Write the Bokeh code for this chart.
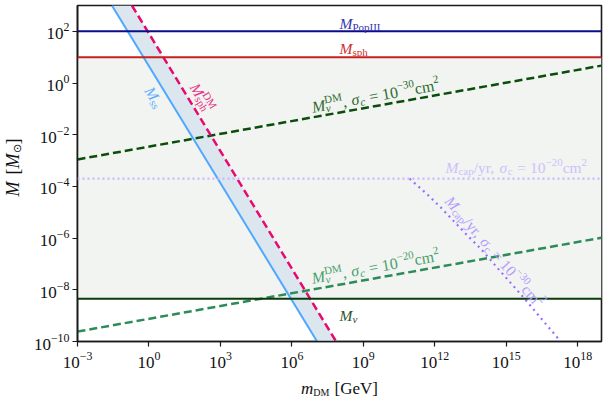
import math
import numpy as np
from bokeh.plotting import figure
from bokeh.layouts import row, column
from bokeh.models import Label, Span, BoxAnnotation, FixedTicker
from bokeh.embed import file_html
from bokeh.resources import INLINE

# ---------------- data ----------------
x_lim = [1e-3, 1e19]
y_lim = [1e-10, 1e3]
x_ticks = [1e-3, 1e0, 1e3, 1e6, 1e9, 1e12, 1e15, 1e18]
y_ticks = [1e-10, 1e-8, 1e-6, 1e-4, 1e-2, 1e0, 1e2]

M_popIII = 100.0
M_sph = 10.0
M_nu = 4.5e-9
M_cap_20 = 2.0e-4

m_ss = [10 ** -1.555, 10 ** 7.06]
M_ss = [1e3, 1e-10]
m_sph_dm = [10 ** -0.714, 10 ** 7.857]
M_sph_dm = [1e3, 1e-10]
m_nu_dm = [1e-3, 1e19]
M_nu_dm_30 = [10 ** -2.956, 10 ** 0.674]
M_nu_dm_20 = [10 ** -9.617, 10 ** -5.986]
m_cap_30 = [10 ** v for v in [10.94, 11.75, 12.31, 13.36, 13.92, 14.76, 15.74, 16.44, 17.14, 17.20]]
M_cap_30 = [10 ** v for v in [-3.70, -4.36, -4.87, -5.89, -6.40, -7.29, -8.31, -9.08, -9.84, -10.0]]

# ---------------- geometry ----------------
PAGE_W, PAGE_H = 606, 400
LEFT_W = 26          # strip holding the y-axis title
BOT_H = 30           # strip holding the x-axis title
W, H = PAGE_W - LEFT_W, PAGE_H - BOT_H
FRAME_L, FRAME_R, FRAME_T, FRAME_B = 77, 601, 5, 344   # frame edges on the page
BL, BR, BT = FRAME_L - LEFT_W, PAGE_W - FRAME_R, FRAME_T
BB = H - FRAME_B
FW, FH = W - BL - BR, H - BT - BB

p = figure(width=W, height=H, x_axis_type="log", y_axis_type="log",
           x_range=(x_lim[0], x_lim[1]), y_range=(y_lim[0], y_lim[1]),
           output_backend="svg", toolbar_location=None, align="start",
           min_border_left=BL, min_border_right=BR, min_border_top=BT, min_border_bottom=BB)
p.background_fill_color = "white"
p.border_fill_color = "white"
p.grid.visible = False
p.outline_line_color = "#1a1a1a"
p.outline_line_width = 1.6

ppx = FW / (math.log10(x_lim[1]) - math.log10(x_lim[0]))
ppy = FH / (math.log10(y_lim[1]) - math.log10(y_lim[0]))

for ax, ticks in ((p.xaxis[0], x_ticks), (p.yaxis[0], y_ticks)):
    ax.ticker = FixedTicker(ticks=ticks)
    ax.major_label_text_font = "Liberation Serif"
    ax.major_label_text_font_size = "17px"
    ax.major_label_text_color = "#111111"
    ax.major_tick_out = 5
    ax.major_tick_in = 0
    ax.major_tick_line_color = "#1a1a1a"
    ax.major_tick_line_width = 1.2
    ax.minor_tick_line_color = None
    ax.axis_line_color = "#1a1a1a"
    ax.axis_line_width = 1.6
p.xaxis.major_label_standoff = 5
p.yaxis.major_label_standoff = 3

# shaded region between M_nu and M_sph
p.add_layout(BoxAnnotation(bottom=M_nu, top=M_sph, fill_color="#f1f4f0", fill_alpha=1.0,
                           line_color=None, level="underlay"))

# band between M_ss and M_sph^DM
p.patch(x=[m_ss[0], m_sph_dm[0], m_sph_dm[1], m_ss[1]],
        y=[M_ss[0], M_sph_dm[0], M_sph_dm[1], M_ss[1]],
        fill_color="#dbe6ee", line_color=None)

p.line(m_nu_dm, M_nu_dm_20, line_color="#2e8b57", line_width=2.5, line_dash="8 4")
p.line(m_nu_dm, M_nu_dm_30, line_color="#0b4d0b", line_width=2.5, line_dash="8 4")
p.line(m_cap_30, M_cap_30, line_color="#9a6cff", line_width=2.2, line_dash="2 4")
p.line(m_ss, M_ss, line_color="#4fa8ff", line_width=2)
p.line(m_sph_dm, M_sph_dm, line_color="#e8096f", line_width=2.5, line_dash="8 4")

p.add_layout(Span(location=M_cap_20, dimension="width", line_color="#cdb6ff",
                  line_width=2.2, line_dash="2 3"))
p.add_layout(Span(location=M_popIII, dimension="width", line_color="#0b0b8c", line_width=2))
p.add_layout(Span(location=M_sph, dimension="width", line_color="#c81f1f", line_width=2))
p.add_layout(Span(location=M_nu, dimension="width", line_color="#0b3b0b", line_width=2))

# ---------------- rich text labels ----------------
W_UP = {"0": .5, "1": .5, "2": .5, "3": .5, "4": .5, "5": .5, "6": .5, "7": .5, "8": .5, "9": .5,
        " ": .25, ",": .25, "/": .278, "=": .564, "[": .333, "]": .333, "\u2212": .564,
        "D": .722, "M": .889, "P": .556, "I": .333, "G": .722, "V": .722,
        "o": .5, "p": .5, "s": .389, "h": .5, "a": .444, "y": .5, "r": .333, "c": .444,
        "m": .778, "e": .444, "\u2299": .8}
W_IT = {"M": .833, "m": .722, "c": .444, "\u03bd": .46, "\u03c3": .54, " ": .25, ",": .25}


def tw(s, size, italic):
    tbl = W_IT if italic else W_UP
    return sum(tbl.get(ch, W_UP.get(ch, .5)) for ch in s) * size


def rich_label(fig, x, y, pieces, color, angle=0.0, perp=0.0, align="left", base=15.5, small=11,
               sub=-3.5, sup=5.5, space=0.3):
    """Place a run of text pieces (normal / subscript / superscript) along a rotated baseline.
    Leading and trailing blanks only advance the pen (SVG would collapse them)."""
    c, s = math.cos(angle), math.sin(angle)
    items = []
    adv = 0.0
    prev_start = 0.0
    for pc in pieces:
        txt, kind, it = pc[0], pc[1], pc[2]
        stack = len(pc) > 3 and pc[3]
        size = base if kind == "n" else small
        h = {"n": 0.0, "sub": sub, "sup": sup}[kind]
        core = txt.strip(" ")
        lead = (len(txt) - len(txt.lstrip(" "))) * space * size
        trail = (len(txt) - len(txt.rstrip(" "))) * space * size
        start = prev_start if stack else adv
        w = tw(core, size, it)
        items.append((core, size, it, start + lead, h))
        end = start + lead + w + trail
        adv = max(adv, end) if stack else end
        prev_start = start
    shift = {"left": 0.0, "center": -adv / 2, "right": -adv}[align]
    for txt, size, it, start, h in items:
        a = start + shift
        hh = h + perp
        fig.add_layout(Label(x=x, y=y, x_offset=a * c - hh * s, y_offset=a * s + hh * c,
                             text=txt, angle=angle, text_font="Liberation Serif",
                             text_font_size=f"{size}px",
                             text_font_style="italic" if it else "normal",
                             text_color=color, text_align="left", text_baseline="alphabetic"))


def seg_angle(xs, ys, i=0):
    lx = np.log10(xs)
    ly = np.log10(ys)
    return math.atan2((ly[i + 1] - ly[i]) * ppy, (lx[i + 1] - lx[i]) * ppx)


def y_on(xs, ys, xq):
    return 10 ** np.interp(math.log10(xq), np.log10(xs), np.log10(ys))


def x_on(xs, ys, yq):
    lx = np.log10(xs)[::-1]
    ly = np.log10(ys)[::-1]
    return 10 ** np.interp(math.log10(yq), ly, lx)


rich_label(p, 1e8, M_popIII, [("M", "n", True), ("PopIII", "sub", False)], "#3535b0", perp=8)
rich_label(p, 1e8, M_sph, [("M", "n", True), ("sph", "sub", False)], "#cc3030", perp=8.4)
rich_label(p, 1e8, M_nu, [("M", "n", True), ("\u03bd", "sub", True)], "#2a552a", perp=-17)

eq_pieces = lambda e: [("M", "n", True), ("\u03bd", "sub", True), ("DM", "sup", False, True),
                       (", ", "n", False), ("\u03c3", "n", True), ("c", "sub", True),
                       (" = 10", "n", False), ("\u2212" + e, "sup", False), ("cm", "n", False),
                       ("2", "sup", False)]
xg = 10 ** 6.92
rich_label(p, xg, y_on(m_nu_dm, M_nu_dm_30, xg), eq_pieces("30"), "#2f6a2f",
           angle=seg_angle(m_nu_dm, M_nu_dm_30), perp=10, base=16)
rich_label(p, xg, y_on(m_nu_dm, M_nu_dm_20, xg), eq_pieces("20"), "#4a9e6e",
           angle=seg_angle(m_nu_dm, M_nu_dm_20), perp=11, base=16)

cap_pieces = lambda e: [("M", "n", True), ("cap", "sub", False), ("/yr, ", "n", False),
                        ("\u03c3", "n", True), ("c", "sub", False), (" = 10", "n", False),
                        ("\u2212" + e, "sup", False), ("cm", "n", False), ("2", "sup", False)]
rich_label(p, 10 ** 12.45, M_cap_20, cap_pieces("20"), "#d0bfff", perp=11)
xc = 10 ** 14.24
rich_label(p, xc, y_on(m_cap_30, M_cap_30, xc), cap_pieces("30"), "#b49cff",
           angle=math.radians(-49), perp=8.5, align="center")

yss = 10 ** -0.31
rich_label(p, x_on(m_ss, M_ss, yss), yss, [("M", "n", True), ("ss", "sub", False)], "#5aaeff",
           angle=seg_angle(m_ss, M_ss), perp=-11.5, align="center")
ysd = 10 ** -0.8
rich_label(p, x_on(m_sph_dm, M_sph_dm, ysd), ysd,
           [("M", "n", True), ("sph", "sub", False), ("DM", "sup", False, True)], "#e8358a",
           angle=seg_angle(m_sph_dm, M_sph_dm), perp=12, align="center")


# ---------------- axis-title strips ----------------
def strip(w, h):
    f = figure(width=w, height=h, x_range=(0, w), y_range=(0, h), output_backend="svg",
               toolbar_location=None, x_axis_location=None, y_axis_location=None,
               align="start", min_border=0, min_border_left=0, min_border_right=0,
               min_border_top=0, min_border_bottom=0)
    f.outline_line_color = None
    f.grid.visible = False
    f.background_fill_color = "white"
    f.border_fill_color = "white"
    return f


# bottom strip spans the full page width, so its x coordinate is the page x
bottom = strip(PAGE_W, BOT_H)
rich_label(bottom, (FRAME_L + FRAME_R) / 2, BOT_H - 18,
           [("m", "n", True), ("DM", "sub", False), (" [GeV]", "n", False)],
           "#111111", align="center", base=17, small=10, sub=-3.5)

left = strip(LEFT_W, H)
rich_label(left, 12.5, H - (FRAME_T + FRAME_B) / 2 - 4,
           [("M", "n", True), (" [", "n", False), ("M", "n", True), ("\u2299", "sub", False),
            ("]", "n", False)],
           "#111111", angle=math.pi / 2, align="center", base=18, small=11, space=0.4)

layout = column(row(left, p, spacing=0, align="start"), bottom, spacing=0, align="start")
open("out.html", "w").write(file_html(layout, INLINE))
